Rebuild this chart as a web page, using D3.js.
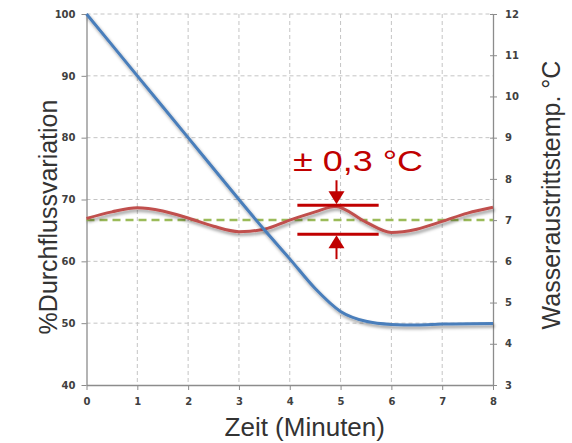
<!DOCTYPE html>
<html>
<head>
<meta charset="utf-8">
<script src="https://cdn.jsdelivr.net/npm/d3@7"></script>
<style>
  body { margin: 0; background: #fff; }
  svg { display: block; }
</style>
</head>
<body>
<script>
// data
const flowTime = [0, 1, 2, 3, 3.5, 4, 4.5, 5, 5.5, 6, 6.5, 7, 8]
const flowValues = [100, 90, 80, 70, 65.1, 60.4, 55.6, 51.9, 50.3, 49.8, 49.7, 49.85, 49.95]
const tempTime = [0, 0.5, 1, 1.5, 2, 2.5, 3, 3.5, 4, 4.5, 4.9, 5.5, 6, 6.5, 7, 7.5, 8]
const tempValues = [7.04, 7.2, 7.3, 7.22, 7.05, 6.85, 6.72, 6.78, 7.0, 7.2, 7.33, 6.95, 6.7, 6.78, 6.97, 7.17, 7.31]
const setpoint = 7.0
const xTicks = [0, 1, 2, 3, 4, 5, 6, 7, 8]
const leftTicks = [40, 50, 60, 70, 80, 90, 100]
const rightTicks = [3, 4, 5, 6, 7, 8, 9, 10, 11, 12]

const W = 572, H = 443
const plot = { left: 86.5, right: 493, top: 14, bottom: 385 }

const svg = d3.select("body").append("svg")
  .attr("width", W)
  .attr("height", H)

const defs = svg.append("defs")
const shadow = defs.append("filter").attr("id", "shadow")
  .attr("x", "-10%").attr("y", "-10%").attr("width", "130%").attr("height", "140%")
shadow.append("feDropShadow")
  .attr("dx", 1.5).attr("dy", 2.5).attr("stdDeviation", 1.6)
  .attr("flood-color", "#000").attr("flood-opacity", 0.4)

const x = d3.scaleLinear().domain([0, 8]).range([plot.left, plot.right])
const yL = d3.scaleLinear().domain([40, 100]).range([plot.bottom, plot.top])
const yR = d3.scaleLinear().domain([3, 12]).range([plot.bottom, plot.top])

// grid
const grid = svg.append("g")
  .attr("stroke", "#c4c4c4")
  .attr("stroke-width", 1)
  .attr("stroke-dasharray", "4,3")
grid.selectAll(".gx").data(xTicks.slice(1, -1)).join("line")
  .attr("x1", d => x(d)).attr("x2", d => x(d))
  .attr("y1", plot.top).attr("y2", plot.bottom)
grid.selectAll(".gy").data(leftTicks.slice(1)).join("line")
  .attr("x1", plot.left).attr("x2", plot.right)
  .attr("y1", d => yL(d)).attr("y2", d => yL(d))

// axes
const tickFont = "DejaVu Sans"
const axisColor = "#8c8c8c"

const styleAxis = (g) => {
  g.select(".domain").attr("stroke", axisColor).attr("stroke-width", 1.3)
  g.selectAll(".tick line").attr("stroke", axisColor)
  g.selectAll(".tick text")
    .attr("fill", "#404040")
    .attr("font-family", tickFont)
    .attr("font-size", 10)
    .attr("font-weight", "bold")
}

svg.append("g")
  .attr("transform", `translate(0,${plot.bottom})`)
  .call(d3.axisBottom(x).tickValues(xTicks).tickSize(5).tickPadding(8).tickSizeOuter(0))
  .call(styleAxis)

svg.append("g")
  .attr("transform", `translate(${plot.left},0)`)
  .call(d3.axisLeft(yL).tickValues(leftTicks).tickSize(5).tickPadding(6).tickSizeOuter(0))
  .call(styleAxis)

const rightAxis = svg.append("g")
  .attr("transform", `translate(${plot.right},0)`)
  .call(d3.axisRight(yR).tickValues(rightTicks).tickSize(4).tickPadding(8).tickSizeOuter(0))
  .call(styleAxis)
rightAxis.selectAll(".tick line").attr("x1", -3)

// setpoint line
svg.append("line")
  .attr("x1", x(0)).attr("x2", x(8))
  .attr("y1", yR(setpoint)).attr("y2", yR(setpoint))
  .attr("stroke", "#9bbb59")
  .attr("stroke-width", 2.5)
  .attr("stroke-dasharray", "8,5")

// temperature line
const tempLine = d3.line()
  .x(d => x(d[0]))
  .y(d => yR(d[1]))
  .curve(d3.curveMonotoneX)
svg.append("path")
  .datum(d3.zip(tempTime, tempValues))
  .attr("d", tempLine)
  .attr("fill", "none")
  .attr("stroke", "#c0504d")
  .attr("stroke-width", 3)
  .attr("filter", "url(#shadow)")

// flow line
const flowLine = d3.line()
  .x(d => x(d[0]))
  .y(d => yL(d[1]))
  .curve(d3.curveMonotoneX)
svg.append("path")
  .datum(d3.zip(flowTime, flowValues))
  .attr("d", flowLine)
  .attr("fill", "none")
  .attr("stroke", "#4a7ebb")
  .attr("stroke-width", 3)
  .attr("filter", "url(#shadow)")

// tolerance annotation
const red = "#c00000"
const bandX = [4.15, 5.75]
const arrowX = x(4.92)
const upper = yR(7.36), lower = yR(6.66)
const ann = svg.append("g")
ann.selectAll(".band").data([upper, lower]).join("line")
  .attr("x1", x(bandX[0])).attr("x2", x(bandX[1]))
  .attr("y1", d => d).attr("y2", d => d)
  .attr("stroke", red).attr("stroke-width", 3)
ann.append("line")
  .attr("x1", arrowX).attr("x2", arrowX)
  .attr("y1", upper - 25).attr("y2", upper - 10)
  .attr("stroke", red).attr("stroke-width", 2)
ann.append("path")
  .attr("d", `M${arrowX - 8},${upper - 14}L${arrowX + 8},${upper - 14}L${arrowX},${upper - 1}Z`)
  .attr("fill", red)
ann.append("line")
  .attr("x1", arrowX).attr("x2", arrowX)
  .attr("y1", lower + 10).attr("y2", lower + 25)
  .attr("stroke", red).attr("stroke-width", 2)
ann.append("path")
  .attr("d", `M${arrowX - 8},${lower + 14}L${arrowX + 8},${lower + 14}L${arrowX},${lower + 1}Z`)
  .attr("fill", red)
ann.append("text")
  .attr("x", 293).attr("y", 171)
  .attr("fill", red)
  .attr("font-family", "Liberation Sans, Arial, sans-serif")
  .attr("font-size", 30)
  .attr("textLength", 130)
  .attr("lengthAdjust", "spacingAndGlyphs")
  .text("± 0,3 °C")

// axis titles
const titleFont = "Liberation Sans, Arial, sans-serif"
svg.append("text")
  .attr("x", (plot.left + plot.right) / 2 + 15).attr("y", 436)
  .attr("text-anchor", "middle")
  .attr("fill", "#333")
  .attr("font-family", titleFont)
  .attr("font-size", 26)
  .text("Zeit (Minuten)")

svg.append("text")
  .attr("transform", "translate(57,217) rotate(-90)")
  .attr("text-anchor", "middle")
  .attr("fill", "#333")
  .attr("font-family", titleFont)
  .attr("font-size", 25)
  .text("%Durchflussvariation")

svg.append("text")
  .attr("transform", "translate(560,195) rotate(-90)")
  .attr("text-anchor", "middle")
  .attr("fill", "#333")
  .attr("font-family", titleFont)
  .attr("font-size", 25)
  .text("Wasseraustrittstemp. °C")
</script>
</body>
</html>
